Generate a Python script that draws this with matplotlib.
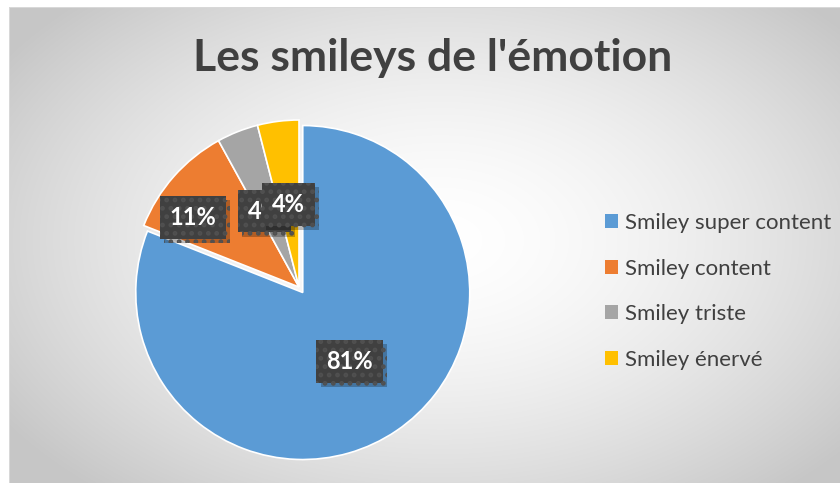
import numpy as np
import matplotlib
matplotlib.use("Agg")
import matplotlib.pyplot as plt
import matplotlib.patheffects as pe

# data
categories = ["Smiley super content", "Smiley content", "Smiley triste", "Smiley énervé"]
values = [81, 11, 4, 4]
labels = ["81%", "11%", "4%", "4%"]
colors = ["#5B9BD5", "#ED7D31", "#A5A5A5", "#FFC000"]
label_r = [0.5, 0.76, 0.5, 0.5]      # radial position of the data labels
label_shift = [0, 8, 3, 0]           # best-fit angle nudge (deg)

plt.rcParams['font.family'] = ['Lato', 'DejaVu Sans']
plt.rcParams['hatch.linewidth'] = 2.2

W, H = 840, 483
fig = plt.figure(figsize=(W / 100, H / 100), dpi=100)
fig.patch.set_facecolor("white")

# radial gradient background of the chart area (pixel coords)
bg = fig.add_axes([0, 0, 1, 1], zorder=-5)
yy, xx = np.mgrid[0:H, 0:W]
d = np.sqrt(((xx - 440) / 520.0) ** 2 + ((yy - 240) / 330.0) ** 2)
shade = 1.0 - 0.22 * np.clip(d, 0, 1) ** 1.6
img = np.dstack([shade, shade, shade])
img[:7, :, :] = 1.0
img[:, :9, :] = 1.0
img[7, 9:, :] = 0.85
img[7:, 9, :] = 0.85
bg.imshow(img, extent=[0, W, H, 0], aspect="auto", interpolation="bilinear")
bg.set_xlim(0, W)
bg.set_ylim(H, 0)
bg.axis("off")

# pie axes: centre (299, 287) px, radius 167 px
R = 167.0
half = 1.1
cx, cy = 299.0, 287.0
ax = fig.add_axes([(cx - half * R) / W, (H - cy - half * R) / H,
                   2 * half * R / W, 2 * half * R / H])
explode = [0.04, 0, 0, 0]
wedges, _ = ax.pie(values, colors=colors, startangle=90, counterclock=False,
                   explode=explode, radius=1.0,
                   wedgeprops=dict(edgecolor="white", linewidth=1.2))
ax.set_xlim(-half, half)
ax.set_ylim(-half, half)
ax.set_aspect("equal")
ax.axis("off")

# data labels in dark boxes with a dotted fill and a soft shadow
for w, lab, r, sh, ex in zip(wedges, labels, label_r, label_shift, explode):
    mid = np.deg2rad((w.theta1 + w.theta2) / 2 + sh)
    x = (r + ex) * np.cos(mid)
    y = (r + ex) * np.sin(mid)
    t = ax.text(x, y, lab, ha="center", va="center", fontsize=17,
                fontweight="bold", color="white",
                bbox=dict(boxstyle="square,pad=0.42", facecolor="#404040",
                          edgecolor="#505050", hatch="..", linewidth=0))
    t.get_bbox_patch().set_path_effects(
        [pe.SimplePatchShadow(offset=(3, -3), shadow_rgbFace="black", alpha=0.25),
         pe.Normal()])

fig.text(433 / W, 1 - 58 / H, "Les smileys de l'émotion", ha="center",
         va="center", fontsize=32, fontweight="bold", color="#404040")

leg = fig.legend(wedges, categories, loc="upper left",
                 bbox_to_anchor=(585 / W, 1 - 193 / H), frameon=False,
                 fontsize=16, handlelength=0.6, handleheight=0.6,
                 handletextpad=0.3, labelspacing=1.15)
for t in leg.get_texts():
    t.set_color("#404040")
for h in leg.legend_handles:
    h.set_edgecolor("none")

fig.savefig("out.png", dpi=100)
